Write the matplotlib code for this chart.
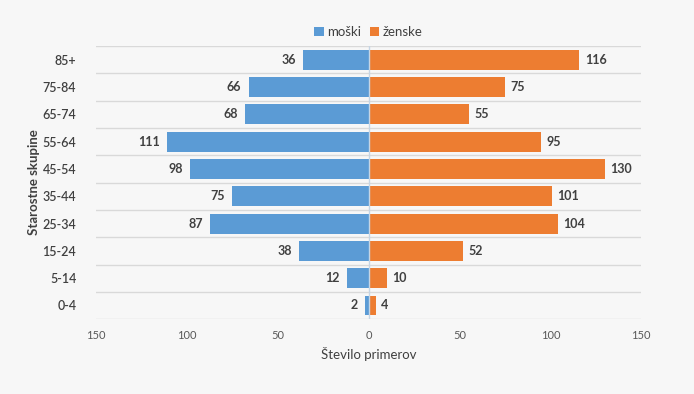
import matplotlib
matplotlib.use("Agg")
import matplotlib.pyplot as plt
import numpy as np

plt.rcParams['font.family'] = ['Lato', 'DejaVu Sans']

categories = ["0-4", "5-14", "15-24", "25-34", "35-44", "45-54", "55-64", "65-74", "75-84", "85+"]
moski = [2, 12, 38, 87, 75, 98, 111, 68, 66, 36]
zenske = [4, 10, 52, 104, 101, 130, 95, 55, 75, 116]
xticks = [-150, -100, -50, 0, 50, 100, 150]

bg = "#f7f7f7"
fig = plt.figure(figsize=(6.94, 3.94), dpi=100, facecolor=bg)
ax = fig.add_axes([0.138, 0.190, 0.786, 0.693], facecolor=bg)

y = np.arange(len(categories))
h = 0.73
ax.barh(y, [-v for v in moski], height=h, color="#5b9bd5", label="moški", zorder=3)
ax.barh(y, zenske, height=h, color="#ed7d31", label="ženske", zorder=3)

lab_col = "#404040"
for yi, v in zip(y, moski):
    ax.text(-v - 4, yi, str(v), ha="right", va="center", fontsize=9, fontweight="bold", color=lab_col)
for yi, v in zip(y, zenske):
    ax.text(v + 3, yi, str(v), ha="left", va="center", fontsize=9, fontweight="bold", color=lab_col)

ax.set_xlim(-150, 150)
ax.set_ylim(-0.5, len(categories) - 0.5)
ax.set_xticks(xticks)
ax.set_xticklabels([str(abs(t)) for t in xticks], fontsize=8, color="#595959")
ax.set_yticks(y)
ax.set_yticklabels(categories, fontsize=9, color=lab_col, fontweight="semibold")
for b in np.arange(-0.5, len(categories), 1.0):
    ax.axhline(b, color="#d9d9d9", linewidth=1, zorder=1)
ax.axvline(0, color="#c5d5e5", linewidth=1, zorder=4)
for s in ax.spines.values():
    s.set_visible(False)
ax.tick_params(axis="both", length=0)
ax.tick_params(axis="x", pad=8)
ax.tick_params(axis="y", pad=14)

ax.set_xlabel("Število primerov", fontsize=9.5, color=lab_col, labelpad=4)
ax.set_ylabel("Starostne skupine", fontsize=9.5, color=lab_col, fontweight="bold", labelpad=2)

leg = ax.legend(loc="lower center", bbox_to_anchor=(0.5, 1.0), ncol=2, frameon=False,
                fontsize=9.5, handlelength=0.7, handleheight=0.7, handletextpad=0.3,
                columnspacing=0.6, borderaxespad=0.2)
for t in leg.get_texts():
    t.set_color(lab_col)

fig.savefig("out.png", dpi=100, facecolor=bg)
